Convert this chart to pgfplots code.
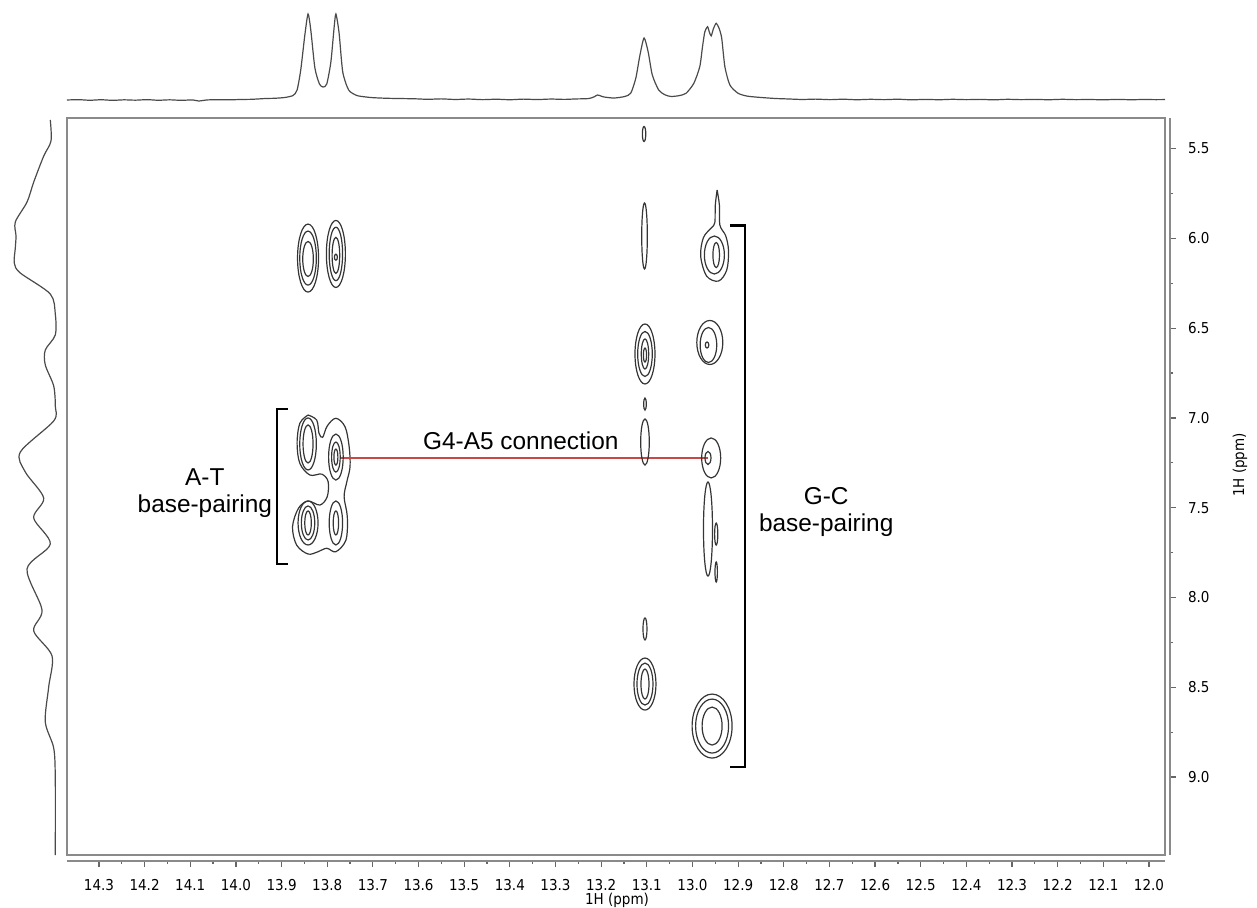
\documentclass[border=0pt]{standalone}
\usepackage{fontspec}
\setmainfont{Liberation Sans}
\newfontfamily\tickfont{DejaVu Sans}[FakeStretch=0.9]
\usepackage{pgfplots}
\usepackage{pgfplotstable}
\pgfplotsset{compat=1.18}

\definecolor{contour}{HTML}{353535}
\definecolor{frame}{HTML}{8A8A8A}
\definecolor{spec}{HTML}{4A4A4A}
\definecolor{link}{RGB}{200,72,70}

\newcommand\ticklab{\tickfont\fontsize{7.5}{9}\selectfont}
\newcommand\annot{\fontsize{12.2}{13.4}\selectfont}

% elliptical contour level, radii set per point
\pgfdeclareplotmark{peakellipse}{%
  \pgfpathellipse{\pgfpointorigin}{\pgfqpoint{\peakrx}{0pt}}{\pgfqpoint{0pt}{\peakry}}%
  \pgfusepathqstroke}

% contour levels: centre (ppm, ppm), half widths a, b (px at 0.5pt)
\pgfplotstableread{
x      y      a     b
13.842 6.110  10.5  34
13.842 6.110  8.3   27
13.842 6.115  5.3   17.5
13.781 6.087  9.5   33.5
13.781 6.087  6.7   26.7
13.781 6.095  3.8   18
13.781 6.105  1.5   3
13.842 7.145  8.3   26
13.842 7.145  5.0   19
13.781 7.218  7.3   23
13.781 7.218  4.3   15
13.781 7.218  2.0   8
13.842 7.585  10    22
13.842 7.585  6.7   17
13.842 7.585  3.3   12
13.781 7.585  6.7   22
13.781 7.585  2.7   12
13.106 5.419  1.7   7.5
13.105 5.987  2.8   33
13.104 6.644  10    30
13.104 6.644  7.3   22.5
13.104 6.644  3.7   15
13.104 6.650  1.6   7
13.104 6.923  1.3   6
13.104 7.134  4.3   23
13.104 8.175  2.0   11
13.104 8.482  11    26
13.104 8.482  8     21
13.104 8.482  4     15
12.952 6.093  10    19
12.948 6.093  3.3   12.5
12.962 6.580  13    22
12.965 6.594  8.3   17.5
12.968 6.594  1.8   3
12.959 7.223  9.5   20
12.966 7.223  3     6.5
12.966 7.619  4.5   47
12.948 7.647  1.6   11
12.948 7.858  1.2   10
12.957 8.716  20    32
12.957 8.716  16.5  27
12.957 8.716  10    19
}\contours

% 1D projection on top: shift (ppm) and relative intensity
\pgfplotstableread{
x      I
14.370 0.000
14.345 0.004
14.320 -0.003
14.295 0.003
14.270 -0.004
14.245 0.002
14.220 -0.002
14.195 0.004
14.170 -0.003
14.145 0.002
14.120 -0.004
14.095 0.001
14.081 -0.012
14.065 0.000
14.040 0.004
14.013 0.002
13.990 0.006
13.965 0.008
13.936 0.017
13.915 0.020
13.893 0.029
13.875 0.052
13.866 0.116
13.858 0.349
13.849 0.756
13.842 1.000
13.836 0.814
13.827 0.372
13.817 0.186
13.809 0.151
13.801 0.186
13.792 0.442
13.785 0.837
13.781 1.000
13.774 0.779
13.766 0.326
13.753 0.116
13.735 0.052
13.715 0.035
13.700 0.027
13.670 0.020
13.640 0.017
13.608 0.014
13.580 0.008
13.550 0.013
13.520 0.006
13.490 0.011
13.460 0.004
13.430 0.009
13.400 0.003
13.370 0.010
13.340 0.005
13.310 0.011
13.280 0.007
13.257 0.012
13.240 0.014
13.227 0.017
13.216 0.035
13.208 0.058
13.200 0.045
13.194 0.035
13.172 0.023
13.148 0.041
13.135 0.081
13.124 0.256
13.115 0.523
13.106 0.721
13.097 0.558
13.088 0.291
13.074 0.116
13.060 0.060
13.047 0.041
13.030 0.050
13.014 0.078
12.997 0.194
12.984 0.387
12.978 0.620
12.973 0.791
12.967 0.852
12.963 0.790
12.959 0.745
12.954 0.830
12.948 0.892
12.942 0.837
12.936 0.721
12.929 0.387
12.918 0.174
12.900 0.078
12.880 0.045
12.854 0.031
12.820 0.018
12.790 0.012
12.760 0.006
12.730 0.010
12.699 0.004
12.670 0.009
12.640 0.003
12.610 0.008
12.580 0.004
12.550 0.009
12.520 0.002
12.490 0.007
12.460 0.003
12.430 0.008
12.400 0.004
12.370 0.007
12.340 0.002
12.310 0.008
12.280 0.004
12.250 0.007
12.220 0.003
12.190 0.008
12.160 0.004
12.130 0.006
12.100 0.002
12.070 0.007
12.040 0.003
12.010 0.006
11.985 0.004
11.965 0.005
}\topspec

% 1D projection on the left: relative intensity and shift (ppm)
\pgfplotstableread{
I      y
0.136  5.341
0.119  5.458
0.293  5.542
0.531  5.687
0.690  5.798
0.969  5.909
0.952  5.987
0.969  6.054
0.993  6.138
0.850  6.193
0.136  6.310
0.017  6.421
0.017  6.538
0.255  6.622
0.255  6.705
0.055  6.822
0.017  6.934
0.055  7.017
0.850  7.190
0.731  7.301
0.293  7.446
0.531  7.557
0.136  7.702
0.690  7.841
0.333  8.069
0.531  8.186
0.095  8.325
0.174  8.498
0.255  8.693
0.055  8.838
0.017  9.010
0.017  9.434
}\leftspec

\pgfplotsset{
  ppmx/.style={xmin=11.965, xmax=14.37, x dir=reverse},
  ppmy/.style={ymin=5.33, ymax=9.434, y dir=reverse},
  ppmfmt/.style={
    /pgf/number format/fixed,
    /pgf/number format/fixed zerofill,
    /pgf/number format/precision=1,
    /pgf/number format/assume math mode=true},
}

\begin{document}
\begin{tikzpicture}
\useasboundingbox (0,0) rectangle (628.5pt,453.5pt);

% 2D map
\begin{axis}[at={(33.5pt,26pt)}, anchor=south west, scale only axis,
  width=549pt, height=368.5pt, ppmx, ppmy,
  xtick=\empty, ytick=\empty,
  axis line style={draw=frame, line width=0.8pt}, clip=false]
\addplot[scatter, only marks, mark=peakellipse,
  visualization depends on={\thisrow{a}\as\ctrA},
  visualization depends on={\thisrow{b}\as\ctrB},
  scatter/@pre marker code/.code={%
    \pgfmathsetlengthmacro\peakrx{0.5pt*\ctrA}%
    \pgfmathsetlengthmacro\peakry{0.5pt*\ctrB}%
    \pgfsetlinewidth{0.6pt}\pgfsetstrokecolor{contour}},
  scatter/@post marker code/.code={}]
  table[x=x, y=y] {\contours};
% merged outer level of the A-T cross peaks
\addplot[draw=contour, line width=0.6pt, smooth, tension=0.55] coordinates {
 (13.842,6.984) (13.823,7.012) (13.818,7.086) (13.810,7.108) (13.800,7.045)
 (13.781,7.002) (13.761,7.049) (13.752,7.160) (13.750,7.272) (13.757,7.355)
 (13.763,7.439) (13.756,7.550) (13.759,7.680) (13.781,7.745) (13.801,7.726)
 (13.820,7.745) (13.842,7.758) (13.867,7.708) (13.876,7.606) (13.863,7.503)
 (13.842,7.463) (13.816,7.485) (13.800,7.439) (13.798,7.355) (13.812,7.313)
 (13.838,7.318) (13.860,7.253) (13.866,7.141) (13.860,7.030) (13.842,6.984)};
% outer level of the upper G-C peak with its tail
\addplot[draw=contour, line width=0.6pt, smooth, tension=0.55] coordinates {
 (12.946,5.731) (12.941,5.815) (12.940,5.926) (12.927,5.987) (12.921,6.071)
 (12.925,6.177) (12.943,6.238) (12.969,6.210) (12.982,6.099) (12.976,5.996)
 (12.958,5.940) (12.951,5.912) (12.950,5.815) (12.946,5.731)};
% brackets and the G4-A5 link
\addplot[draw=black, line width=1.3pt] coordinates {
 (13.886,6.95) (13.910,6.95) (13.910,7.813) (13.886,7.813)};
\addplot[draw=black, line width=1.3pt] coordinates {
 (12.918,5.93) (12.885,5.93) (12.885,8.944) (12.918,8.944)};
\addplot[draw=link, line width=1.4pt] coordinates {(13.772,7.223) (12.966,7.223)};
\node[font=\annot, align=center] at (axis cs:14.068,7.42) {A-T\\base-pairing};
\node[font=\annot, align=center] at (axis cs:12.707,7.525) {G-C\\base-pairing};
\node[font=\annot] at (axis cs:13.376,7.13) {G4-A5 connection};
\end{axis}

% shift scale, bottom
\begin{axis}[at={(33.5pt,23pt)}, anchor=south west, scale only axis,
  width=549pt, height=10pt, ppmx, ymin=0, ymax=1,
  hide y axis, axis x line*=bottom,
  x axis line style={draw=frame, line width=0.8pt},
  xtick={12.0,12.1,...,14.3}, minor x tick num=1,
  tick align=outside, major tick length=3pt, minor tick length=1.6pt,
  every tick/.style={draw=black!60, line width=0.6pt},
  xticklabel style={font=\ticklab, yshift=-2.5pt}, ppmfmt]
\end{axis}

% shift scale, right
\begin{axis}[at={(584pt,26pt)}, anchor=south west, scale only axis,
  width=1pt, height=368.5pt, ppmy, xmin=0, xmax=1,
  hide x axis, axis y line*=right,
  y axis line style={draw=frame, line width=0.8pt},
  ytick={5.5,6.0,...,9.0}, minor y tick num=1,
  tick align=outside, major tick length=3pt, minor tick length=1.6pt,
  every tick/.style={draw=black!60, line width=0.6pt},
  yticklabel style={font=\ticklab, xshift=2.5pt}, ppmfmt]
\end{axis}

% top projection
\begin{axis}[at={(33.5pt,403.5pt)}, anchor=south west, scale only axis,
  width=549pt, height=43pt, ppmx, ymin=0, ymax=1,
  axis lines=none, clip=false]
\addplot[draw=spec, line width=0.6pt, smooth, tension=0.4] table[x=x, y=I] {\topspec};
\end{axis}

% left projection
\begin{axis}[at={(7pt,26pt)}, anchor=south west, scale only axis,
  width=21pt, height=368.5pt, xmin=0, xmax=1, x dir=reverse, ppmy,
  axis lines=none, clip=false]
\addplot[draw=spec, line width=0.6pt, smooth, tension=0.5] table[x=I, y=y] {\leftspec};
\end{axis}

\node[font=\ticklab] at (308.5pt,3.5pt) {1H (ppm)};
\node[font=\ticklab, rotate=90] at (620pt,221pt) {1H (ppm)};
\end{tikzpicture}
\end{document}
